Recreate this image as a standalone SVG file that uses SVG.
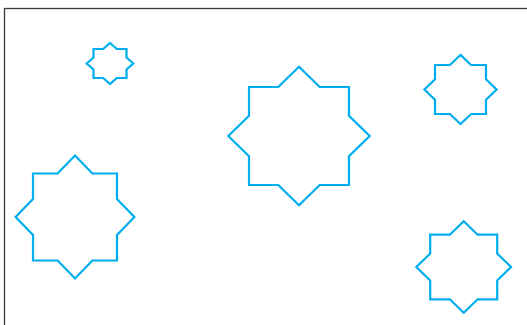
<svg xmlns="http://www.w3.org/2000/svg" width="527" height="325" viewBox="0 0 527 325">
<style>
.star{fill:none;stroke:#00AEEF;stroke-width:2.2;stroke-linejoin:miter}
.frame{fill:none;stroke:#3a3a3a;stroke-width:1.3}
</style>
<rect width="527" height="325" fill="#fff"/>
<rect class="frame" x="4.5" y="8.5" width="600" height="400"/>
<g id="star-top-left"><polygon class="star" points="110,43 116.8,49 126.5,49 126.5,57.5 133.3,63.5 126.5,69.5 126.5,78 116.8,78 110,84 103.2,78 93.5,78 93.5,69.5 86.7,63.5 93.5,57.5 93.5,49 103.2,49"/></g>
<g id="star-center"><polygon class="star" points="299,66.7 319.7,87 349,87 349,115.7 369.7,136 349,156.3 349,185 319.7,185 299,205.3 278.3,185 249,185 249,156.3 228.3,136 249,115.7 249,87 278.3,87"/></g>
<g id="star-left"><polygon class="star" points="75,155.5 92.4,173.5 117,173.5 117,199 134.4,217 117,235 117,260.5 92.4,260.5 75,278.5 57.6,260.5 33,260.5 33,235 15.6,217 33,199 33,173.5 57.6,173.5"/></g>
<g id="star-right-top"><polygon class="star" points="460.5,54.9 471.1,65 486,65 486,79.4 496.6,89.5 486,99.6 486,114 471.1,114 460.5,124.1 449.9,114 435,114 435,99.6 424.4,89.5 435,79.4 435,65 449.9,65"/></g>
<g id="star-right-bottom"><polygon class="star" points="463.7,221.3 477.6,234.7 497.2,234.7 497.2,253.6 511.1,267 497.2,280.4 497.2,299.3 477.6,299.3 463.7,312.7 449.8,299.3 430.2,299.3 430.2,280.4 416.3,267 430.2,253.6 430.2,234.7 449.8,234.7"/></g>
<g id="connectors"></g>
</svg>
